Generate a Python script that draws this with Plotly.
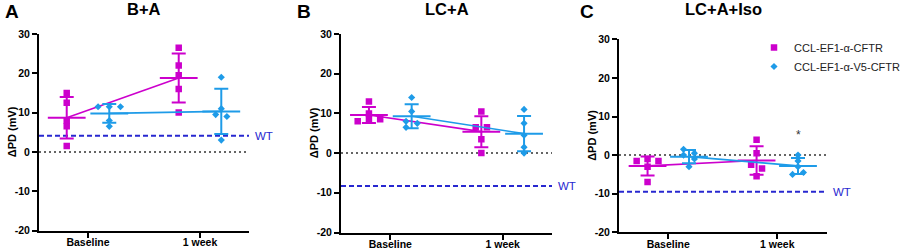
import numpy as np
import plotly.graph_objects as go

# ---------------- data ----------------
categories = ["Baseline", "1 week"]
panel_titles = ["B+A", "LC+A", "LC+A+Iso"]
panel_letters = ["A", "B", "C"]
series_names = ["CCL-EF1-α-CFTR", "CCL-EF1-α-V5-CFTR"]

# Panel A (B+A)
a_cftr_baseline = [15, 12.5, 8, 6.5, 1.5]
a_cftr_1week = [26.5, 22, 19.5, 16, 10]
a_v5_baseline = [11.5, 11.5, 11.5, 8, 6.5]
a_v5_1week = [19, 11, 9.5, 9, 3]
# Panel B (LC+A)
b_cftr_baseline = [13, 10, 8, 8.5, 8.5]
b_cftr_1week = [10.5, 6.5, 6.5, 3.5, 0]
b_v5_baseline = [14, 10.5, 8, 7.5, 6.5]
b_v5_1week = [11, 7.5, 4.5, 1.5, 0]
# Panel C (LC+A+Iso)
c_cftr_baseline = [-1.5, -1, -1.5, -3, -7]
c_cftr_1week = [4, 0.5, -2.5, -3.5, -5.5]
c_v5_baseline = [1.5, 0.5, 0, -1, -3]
c_v5_1week = [0, -1.5, -3, -5, -4.5]

wt_values = [4.1, -8.3, -9.5]
y_tick_values = [-20, -10, 0, 10, 20, 30]
y_tick_labels = ["-20", "-10", "0", "10", "20", "30"]
significance = {2: (1, 1, "*")}  # panel C, series V5, 1 week

panels = [
    [[a_cftr_baseline, a_cftr_1week], [a_v5_baseline, a_v5_1week]],
    [[b_cftr_baseline, b_cftr_1week], [b_v5_baseline, b_v5_1week]],
    [[c_cftr_baseline, c_cftr_1week], [c_v5_baseline, c_v5_1week]],
]

# ---------------- style / layout ----------------
W, H = 906, 250
FONT = "Arial, 'Liberation Sans', sans-serif"
colors = ["#CC00CC", "#1E9BE8"]
symbols = ["square", "diamond"]
msizes = [6.5, 5.5]
wt_color = "#2828D0"
group_offset = 0.19
slot = 0.1
x_px = [(39, 249), (341, 552), (619, 827)]
y_px = [(34, 230.5), (34, 232.5), (39.3, 232.3)]
x_ranges = [[-0.4375, 1.4375], [-0.4386, 1.4386], [-0.452, 1.456]]


def spread(values, t=1.0, slot=0.1):
    v = np.asarray(values, float)
    order = np.argsort(-v, kind="stable")
    offs = np.zeros(len(v))
    clusters, cur = [], [order[0]]
    for i in order[1:]:
        if v[cur[-1]] - v[i] <= t + 1e-9:
            cur.append(i)
        else:
            clusters.append(cur)
            cur = [i]
    clusters.append(cur)
    for c in clusters:
        if len(c) < 2:
            continue
        c = sorted(c)
        span = v[c].max() - v[c].min()
        if span <= 0.6:
            n = len(c)
            for k, i in enumerate(c):
                offs[i] = (k - (n - 1) / 2) * slot
        else:
            for k, i in enumerate(c):
                offs[i] = (-0.5 if k % 2 == 0 else 0.5) * slot
    return offs


fig = go.Figure()
annotations = []
shapes = []

for p, panel in enumerate(panels):
    ax = "" if p == 0 else str(p + 1)
    xref, yref = "x" + ax, "y" + ax
    for s, series in enumerate(panel):
        off = -group_offset if s == 0 else group_offset
        means, sds, mx = [], [], []
        for c, vals in enumerate(series):
            xs = c + off + spread(vals, slot=slot)
            fig.add_trace(go.Scatter(
                x=xs, y=vals, mode="markers", xaxis=xref, yaxis=yref,
                marker=dict(symbol=symbols[s], size=msizes[s], color=colors[s]),
                name=series_names[s],
                showlegend=(p == 2 and c == 0), hoverinfo="y"))
            means.append(float(np.mean(vals)))
            sds.append(float(np.std(vals, ddof=1)))
            mx.append(c + off)
        # connecting line through means
        fig.add_trace(go.Scatter(
            x=mx, y=means, mode="lines", xaxis=xref, yaxis=yref,
            line=dict(color=colors[s], width=1.6), showlegend=False, hoverinfo="skip"))
        # mean bar + SD
        fig.add_trace(go.Scatter(
            x=mx, y=means, mode="markers", xaxis=xref, yaxis=yref,
            marker=dict(symbol="line-ew-open", size=27, color=colors[s],
                        line=dict(color=colors[s], width=2)),
            error_y=dict(type="data", array=sds, symmetric=True, color=colors[s],
                         thickness=2, width=7),
            showlegend=False, hoverinfo="skip"))

    # reference lines
    shapes.append(dict(type="line", xref=xref + " domain", x0=0, x1=1, yref=yref,
                       y0=0, y1=0, layer="below",
                       line=dict(color="#333333", width=1.5, dash="2px,3px")))
    shapes.append(dict(type="line", xref=xref + " domain", x0=0, x1=1, yref=yref,
                       y0=wt_values[p], y1=wt_values[p], layer="below",
                       line=dict(color=wt_color, width=2, dash="5px,3px")))
    annotations.append(dict(text="WT", xref=xref + " domain", x=1, xanchor="left",
                            xshift=4, yref=yref, y=wt_values[p], yanchor="middle",
                            showarrow=False, font=dict(family=FONT, size=11.5, color=wt_color)))

    x0, x1 = x_px[p]
    ytop, ybot = y_px[p]
    fig.update_layout(**{
        "xaxis" + ax: dict(domain=[x0 / W, x1 / W], range=x_ranges[p],
                           tickvals=[0, 1], ticktext=categories, showline=True,
                           linewidth=2, linecolor="black", ticks="outside", ticklen=5,
                           tickwidth=2, tickcolor="black", showgrid=False, zeroline=False,
                           anchor=yref, fixedrange=True, automargin=False,
                           ticklabelstandoff=-4,
                           tickfont=dict(family=FONT, size=10.5, color="black", weight="bold")),
        "yaxis" + ax: dict(domain=[1 - ybot / H, 1 - ytop / H], range=[-20, 30],
                           tickvals=y_tick_values, ticktext=y_tick_labels, showline=True,
                           linewidth=2, linecolor="black", ticks="outside", ticklen=5,
                           tickwidth=2, tickcolor="black", showgrid=False, zeroline=False,
                           anchor=xref, fixedrange=True, automargin=False,
                           tickfont=dict(family=FONT, size=10.5, color="black", weight="bold")),
    })
    # y title
    annotations.append(dict(text="ΔPD (mV)", xref="paper", x=(x0 - 27) / W, xanchor="center",
                            yref="paper", y=1 - (ytop + ybot) / 2 / H, yanchor="middle",
                            textangle=-90, showarrow=False,
                            font=dict(family=FONT, size=11, color="black", weight="bold")))
    # panel title
    annotations.append(dict(text=panel_titles[p], xref=xref + " domain", x=0.5,
                            xanchor="center", yref="paper", y=1 - 9 / H, yanchor="middle",
                            showarrow=False,
                            font=dict(family=FONT, size=16.5, color="black", weight="bold")))

# panel letters
for p, lx in enumerate([2.5, 295, 578]):
    annotations.append(dict(text=panel_letters[p], xref="paper", x=lx / W, xanchor="left",
                            yref="paper", y=1 - 11.7 / H, yanchor="middle", showarrow=False,
                            font=dict(family=FONT, size=19, color="black", weight="bold")))

# significance marker
for p, (s, c, txt) in significance.items():
    ax = "" if p == 0 else str(p + 1)
    vals = panels[p][s][c]
    annotations.append(dict(text=txt, xref="x" + ax, x=c + group_offset, yref="y" + ax,
                            y=max(vals), yanchor="bottom", yshift=11, showarrow=False,
                            font=dict(family=FONT, size=12, color="#333333")))

fig.update_layout(
    width=W, height=H, margin=dict(l=0, r=0, t=0, b=0, autoexpand=False),
    paper_bgcolor="white", plot_bgcolor="white",
    annotations=annotations, shapes=shapes,
    showlegend=True,
    legend=dict(x=754 / W, xanchor="left", y=1 - 33 / H, yanchor="top",
                bgcolor="rgba(0,0,0,0)", borderwidth=0, itemwidth=30,
                font=dict(family=FONT, size=11, color="#222222"),
                tracegroupgap=0),
    font=dict(family=FONT),
)

fig.write_html("out.html", config={"displayModeBar": False},
               post_script="document.body.style.margin='0';document.body.style.padding='0';"
                           "document.body.style.overflow='hidden';")
